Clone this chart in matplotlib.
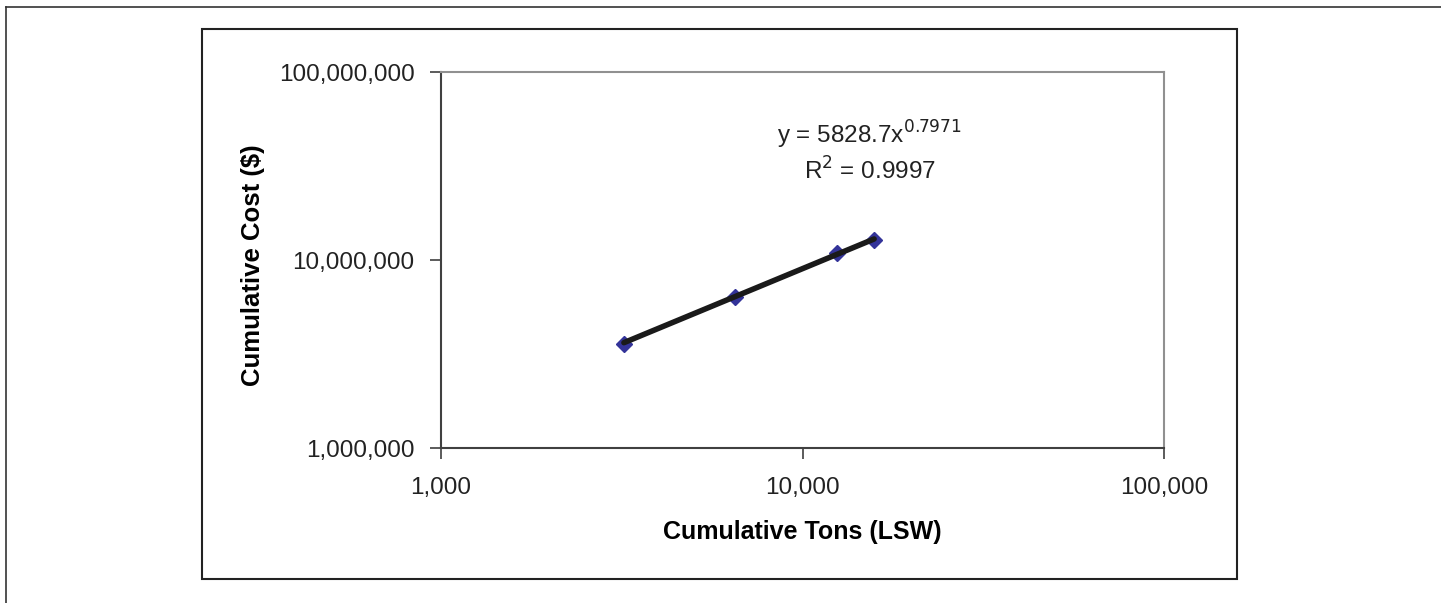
import numpy as np
import matplotlib.pyplot as plt
from matplotlib.patches import Rectangle
from matplotlib.lines import Line2D
from matplotlib.ticker import FuncFormatter, NullLocator

plt.rcParams["font.family"] = ["Liberation Sans", "DejaVu Sans"]

# data
tons = [3206, 6500, 12450, 15780]
cost = [3.57e6, 6.35e6, 1.089e7, 1.276e7]

# power trendline shown on the chart
coef = 5828.7
expo = 0.7971
r2 = 0.9997

fig = plt.figure(figsize=(14.41, 6.03), dpi=100)
W, H = 1441, 603

# outer frame (top and left edges visible)
fig.add_artist(Line2D([6 / W, 6 / W], [0, 1 - 7 / H], transform=fig.transFigure, color="#333333", lw=1.2))
fig.add_artist(Line2D([6 / W, 1], [1 - 7 / H, 1 - 7 / H], transform=fig.transFigure, color="#333333", lw=1.2))

# chart area border
fig.add_artist(Rectangle((202 / W, 1 - 579 / H), (1237 - 202) / W, (579 - 29) / H,
                         transform=fig.transFigure, fill=False, edgecolor="#222222", lw=1.5))

ax = fig.add_axes([441 / W, 1 - 448 / H, (1164 - 441) / W, (448 - 72) / H])
ax.set_xscale("log")
ax.set_yscale("log")
ax.set_xlim(1e3, 1e5)
ax.set_ylim(1e6, 1e8)

xs = np.array([min(tons), max(tons)])
ax.plot(xs, coef * xs ** expo, color="#1a1a1a", lw=4, solid_capstyle="round", zorder=3)
ax.plot(tons, cost, linestyle="none", marker="D", markersize=8, color="#333399",
        markeredgecolor="#333399", zorder=2)

fmt = FuncFormatter(lambda v, p: f"{v:,.0f}")
ax.xaxis.set_major_formatter(fmt)
ax.yaxis.set_major_formatter(fmt)
ax.xaxis.set_minor_locator(NullLocator())
ax.yaxis.set_minor_locator(NullLocator())
ax.tick_params(axis="both", which="major", direction="out", length=8, width=1.2,
               color="#404040", labelsize=17.5, labelcolor="#222222")
ax.tick_params(axis="y", pad=11)
ax.tick_params(axis="x", pad=13)

for s in ["left", "bottom"]:
    ax.spines[s].set_color("#404040")
    ax.spines[s].set_linewidth(1.5)
for s in ["top", "right"]:
    ax.spines[s].set_color("#909090")
    ax.spines[s].set_linewidth(1.5)

ax.set_xlabel("Cumulative Tons (LSW)", fontsize=18, fontweight="bold", labelpad=15)
ax.set_ylabel("Cumulative Cost ($)", fontsize=18.5, fontweight="bold")
ax.yaxis.set_label_coords(-0.243, 0.487)

ax.text(0.593, 0.832, f"y = {coef}x$^{{{expo}}}$", transform=ax.transAxes, fontsize=17.5,
        ha="center", va="center", color="#222222")
ax.text(0.593, 0.737, f"R$^{{2}}$ = {r2}", transform=ax.transAxes, fontsize=17.5,
        ha="center", va="center", color="#222222")

fig.savefig("out.png", dpi=100)
